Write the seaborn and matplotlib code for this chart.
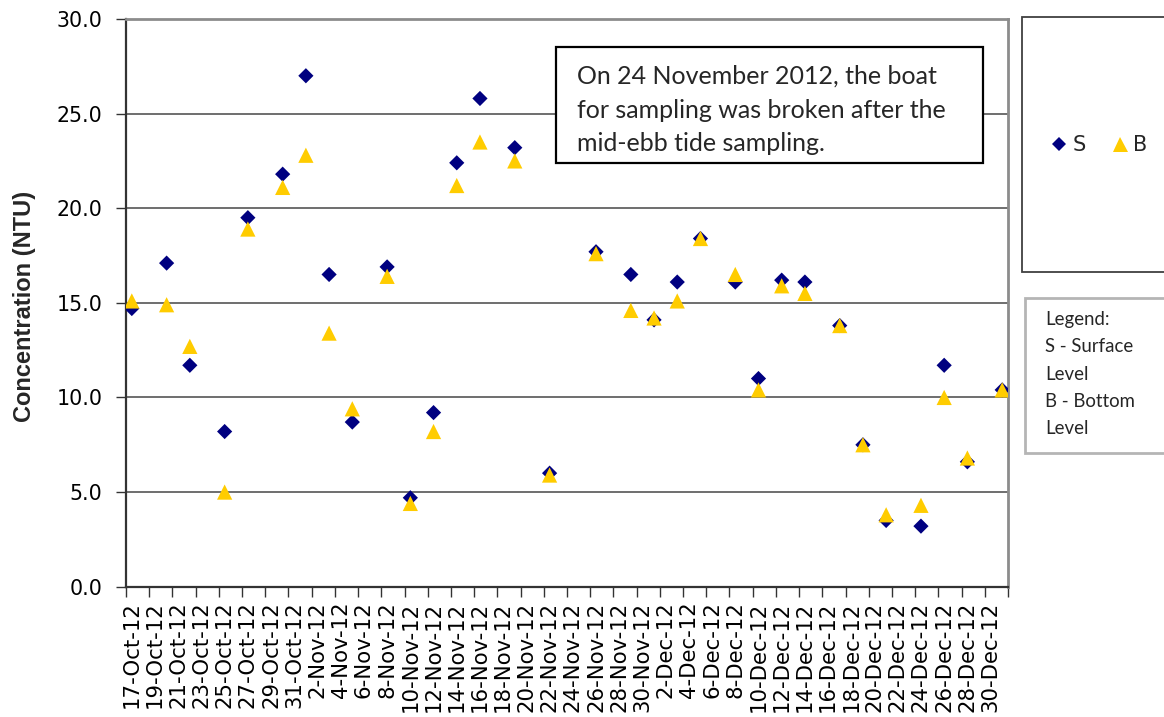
import numpy as np
import pandas as pd
import matplotlib
matplotlib.use("Agg")
import matplotlib.pyplot as plt
import seaborn as sns
from matplotlib.patches import Rectangle
from matplotlib.lines import Line2D
from matplotlib.ticker import FixedLocator, NullFormatter, FixedFormatter

# ---------------- data ----------------
dates = ["2012-10-17", "2012-10-20", "2012-10-22", "2012-10-25", "2012-10-27",
         "2012-10-30", "2012-11-01", "2012-11-03", "2012-11-05", "2012-11-08",
         "2012-11-10", "2012-11-12", "2012-11-14", "2012-11-16", "2012-11-19",
         "2012-11-22", "2012-11-26", "2012-11-29", "2012-12-01", "2012-12-03",
         "2012-12-05", "2012-12-08", "2012-12-10", "2012-12-12", "2012-12-14",
         "2012-12-17", "2012-12-19", "2012-12-21", "2012-12-24", "2012-12-26",
         "2012-12-28", "2012-12-31"]
surface = [14.7, 17.1, 11.7, 8.2, 19.5, 21.8, 27.0, 16.5, 8.7, 16.9,
           4.7, 9.2, 22.4, 25.8, 23.2, 6.0, 17.7, 16.5, 14.1, 16.1,
           18.4, 16.1, 11.0, 16.2, 16.1, 13.8, 7.5, 3.5, 3.2, 11.7,
           6.6, 10.4]
bottom = [15.1, 14.9, 12.7, 5.0, 18.9, 21.1, 22.8, 13.4, 9.4, 16.4,
          4.4, 8.2, 21.2, 23.5, 22.5, 5.9, 17.6, 14.6, 14.2, 15.1,
          18.4, 16.5, 10.4, 15.9, 15.5, 13.8, 7.5, 3.8, 4.3, 10.0,
          6.8, 10.4]
series_names = ["S", "B"]
axis_start = "2012-10-17"
axis_end = "2013-01-01"
tick_dates = pd.date_range("2012-10-17", "2012-12-30", freq="2D")
tick_labels = [f"{d.day}-{d.strftime('%b')}-{d.strftime('%y')}" for d in tick_dates]
y_ticks = [0, 5, 10, 15, 20, 25, 30]
y_label = "Concentration (NTU)"
note_text = ("On 24 November 2012, the boat\n"
             "for sampling was broken after the\n"
             "mid-ebb tide sampling.")
legend_note = "Legend:\nS - Surface\nLevel\nB - Bottom\nLevel"

# ---------------- style ----------------
sns.set_style("white")
plt.rcParams["font.family"] = ["DejaVu Sans"]

W, H = 1164, 717
fig = plt.figure(figsize=(W / 100, H / 100), dpi=100)


def fx(px):
    return px / W


def fy(py):
    return 1 - py / H


ax = fig.add_axes([fx(126), fy(586.7), fx(1008) - fx(126), (586.7 - 19) / H])

start = pd.Timestamp(axis_start)
n_days = (pd.Timestamp(axis_end) - start).days
day = (pd.to_datetime(dates) - start).days.to_numpy() + 0.5
df = pd.DataFrame({
    "day": np.concatenate([day, day]),
    "value": surface + bottom,
    "Level": [series_names[0]] * len(surface) + [series_names[1]] * len(bottom),
})

colors = {"S": "#000080", "B": "#FFCC00"}
markers = {"S": "D", "B": "^"}
sns.scatterplot(data=df, x="day", y="value", hue="Level", style="Level",
                size="Level", hue_order=series_names, style_order=series_names,
                size_order=series_names, palette=colors, markers=markers,
                sizes={"S": 60, "B": 120}, linewidth=0, legend=False,
                ax=ax, zorder=3)

ax.set_xlim(0, n_days)
ax.set_ylim(0, 30)
ax.set_yticks(y_ticks)
ax.set_yticklabels([f"{v:.1f}" for v in y_ticks])

ax.xaxis.set_major_locator(FixedLocator(np.arange(0, n_days + 1, 2)))
ax.xaxis.set_major_formatter(NullFormatter())
ax.xaxis.set_minor_locator(FixedLocator(np.arange(0.5, n_days - 1, 2)))
ax.xaxis.set_minor_formatter(FixedFormatter(tick_labels))

ax.tick_params(axis="x", which="major", bottom=True, direction="out",
               length=7, width=1, color="#333333")
ax.tick_params(axis="x", which="minor", bottom=True, length=0,
               labelsize=15.3, labelrotation=90, pad=10.6, labelcolor="black")
ax.tick_params(axis="y", left=True, direction="out", length=7, width=1,
               color="#333333", labelsize=14.8, pad=10, labelcolor="black")

ax.yaxis.grid(True, color="#555555", linewidth=1.2)
ax.xaxis.grid(False)
ax.set_axisbelow(True)
for s in ["left", "bottom"]:
    ax.spines[s].set_color("#333333")
    ax.spines[s].set_linewidth(1.6)
for s in ["top", "right"]:
    ax.spines[s].set_color("#8c8c8c")
    ax.spines[s].set_linewidth(2)

ax.set_xlabel("")
ax.set_ylabel(y_label, fontsize=17, fontweight="bold",
              family=["Liberation Sans", "DejaVu Sans"])
ax.yaxis.set_label_coords(-0.102, 0.493)

# annotation box
fig.add_artist(Rectangle((fx(556), fy(163)), fx(983) - fx(556), (163 - 47) / H,
                         transform=fig.transFigure, facecolor="white",
                         edgecolor="black", linewidth=1.6, zorder=5))
fig.text(fx(577), fy(110), note_text, ha="left", va="center", fontsize=18,
         family=["Lato", "DejaVu Sans"], linespacing=1.56, zorder=6)

# legend box
fig.add_artist(Rectangle((fx(1022), fy(272)), fx(1250) - fx(1022), (272 - 17) / H,
                         transform=fig.transFigure, facecolor="white",
                         edgecolor="#404040", linewidth=1.3, zorder=5))
handles = [Line2D([], [], marker="D", color=colors["S"], linestyle="",
                  markersize=7.6, markeredgewidth=0),
           Line2D([], [], marker="^", color=colors["B"], linestyle="",
                  markersize=10.8, markeredgewidth=0)]
leg = fig.legend(handles, series_names, ncol=2, loc="center left",
                 bbox_to_anchor=(fx(1040), fy(145)), frameon=False,
                 fontsize=15, handlelength=0.8, handletextpad=0.25,
                 columnspacing=1.25, borderpad=0)
leg.set_zorder(6)

# legend note box
fig.add_artist(Rectangle((fx(1025), fy(453)), fx(1250) - fx(1025), (453 - 298) / H,
                         transform=fig.transFigure, facecolor="white",
                         edgecolor="#b5b5b5", linewidth=2, zorder=5))
fig.text(fx(1045), fy(374), legend_note, ha="left", va="center", fontsize=13.4,
         family=["Lato", "DejaVu Sans"], linespacing=1.73, zorder=6)

fig.savefig("out.png", dpi=100)
